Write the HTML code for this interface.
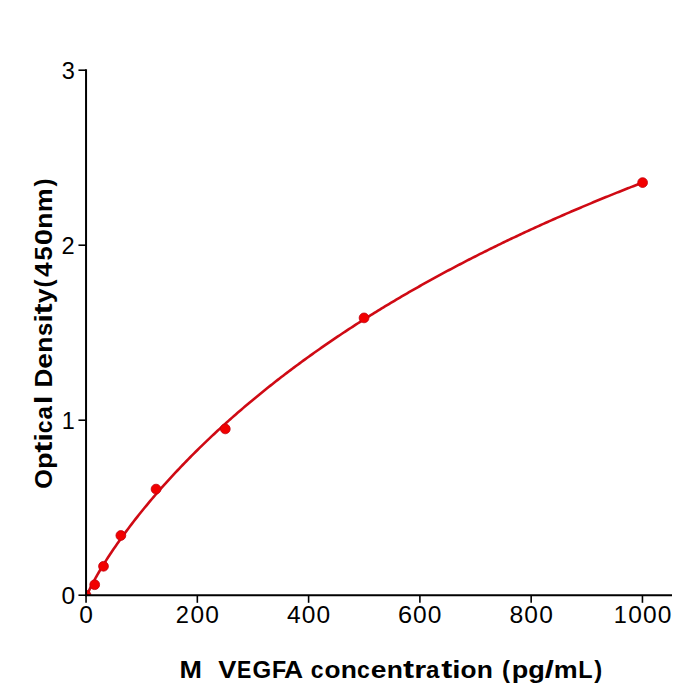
<!DOCTYPE html>
<html><head><meta charset="utf-8"><style>
html,body{margin:0;padding:0;background:#fff;width:700px;height:700px;overflow:hidden}
svg{display:block}
text{font-family:"Liberation Sans",sans-serif;}
</style></head><body>
<svg width="700" height="700" viewBox="0 0 700 700">
<defs><clipPath id="ax"><rect x="86.05" y="70.20000000000005" width="585.95" height="525.0"/></clipPath></defs>
<rect width="700" height="700" fill="#fff"/>
<g clip-path="url(#ax)">
<polyline points="86.05,598.03 86.24,597.35 86.43,596.79 86.62,596.27 86.80,595.77 86.99,595.29 87.18,594.83 87.37,594.37 87.56,593.92 87.75,593.48 87.94,593.05 88.12,592.62 88.31,592.19 88.50,591.78 88.69,591.36 88.88,590.96 89.07,590.55 89.26,590.15 89.44,589.75 89.63,589.36 89.82,588.97 90.01,588.58 90.20,588.19 90.39,587.81 90.58,587.43 90.77,587.05 90.95,586.67 91.14,586.30 91.33,585.93 91.52,585.56 91.71,585.19 91.90,584.82 92.09,584.46 92.27,584.09 92.46,583.73 92.65,583.37 92.84,583.02 93.03,582.66 93.22,582.31 93.41,581.95 93.59,581.60 93.78,581.25 93.97,580.90 94.16,580.55 94.35,580.21 94.54,579.86 94.73,579.52 94.91,579.18 95.10,578.83 95.29,578.49 95.48,578.16 95.67,577.82 95.86,577.48 96.05,577.14 96.23,576.81 96.42,576.48 96.61,576.14 96.80,575.81 96.99,575.48 97.18,575.15 99.00,572.01 100.83,568.95 102.65,565.95 104.47,563.01 106.30,560.13 108.12,557.30 109.94,554.52 111.77,551.77 113.59,549.07 115.41,546.41 117.24,543.79 119.06,541.19 120.89,538.63 122.71,536.10 124.53,533.61 126.36,531.13 128.18,528.69 130.00,526.27 131.83,523.88 133.65,521.51 135.47,519.17 137.30,516.85 139.12,514.55 140.95,512.27 142.77,510.02 144.59,507.78 146.42,505.56 148.24,503.36 150.06,501.19 151.89,499.03 153.71,496.88 155.53,494.76 157.36,492.65 159.18,490.56 161.01,488.48 162.83,486.42 164.65,484.38 166.48,482.35 168.30,480.34 170.12,478.34 171.95,476.36 173.77,474.39 175.60,472.43 177.42,470.49 179.24,468.56 181.07,466.65 182.89,464.74 184.71,462.85 186.54,460.98 188.36,459.11 190.18,457.26 192.01,455.42 193.83,453.59 195.66,451.77 197.48,449.97 199.30,448.17 201.13,446.39 202.95,444.62 204.77,442.86 206.60,441.11 208.42,439.37 210.24,437.64 212.07,435.92 213.89,434.21 215.72,432.51 217.54,430.82 219.36,429.14 221.19,427.47 223.01,425.81 224.83,424.16 226.66,422.51 228.48,420.88 230.30,419.26 232.13,417.64 233.95,416.03 235.78,414.44 237.60,412.85 239.42,411.27 241.25,409.69 243.07,408.13 244.89,406.57 246.72,405.03 248.54,403.49 250.36,401.96 252.19,400.43 254.01,398.92 255.84,397.41 257.66,395.91 259.48,394.41 261.31,392.93 263.13,391.45 264.95,389.98 266.78,388.52 268.60,387.06 270.42,385.61 272.25,384.17 274.07,382.73 275.90,381.31 277.72,379.88 279.54,378.47 281.37,377.06 283.19,375.66 285.01,374.27 286.84,372.88 288.66,371.50 290.49,370.12 292.31,368.75 294.13,367.39 295.96,366.03 297.78,364.68 299.60,363.34 301.43,362.00 303.25,360.67 305.07,359.34 306.90,358.02 308.72,356.71 310.55,355.40 312.37,354.10 314.19,352.80 316.02,351.51 317.84,350.22 319.66,348.94 321.49,347.67 323.31,346.40 325.13,345.14 326.96,343.88 328.78,342.63 330.61,341.38 332.43,340.14 334.25,338.90 336.08,337.67 337.90,336.44 339.72,335.22 341.55,334.00 343.37,332.79 345.19,331.58 347.02,330.38 348.84,329.19 350.67,328.00 352.49,326.81 354.31,325.63 356.14,324.45 357.96,323.28 359.78,322.11 361.61,320.95 363.43,319.79 365.25,318.63 367.08,317.48 368.90,316.34 370.73,315.20 372.55,314.06 374.37,312.93 376.20,311.80 378.02,310.68 379.84,309.56 381.67,308.45 383.49,307.34 385.32,306.23 387.14,305.13 388.96,304.03 390.79,302.94 392.61,301.85 394.43,300.77 396.26,299.69 398.08,298.61 399.90,297.54 401.73,296.47 403.55,295.40 405.38,294.34 407.20,293.29 409.02,292.23 410.85,291.19 412.67,290.14 414.49,289.10 416.32,288.06 418.14,287.03 419.96,286.00 421.79,284.97 423.61,283.95 425.44,282.93 427.26,281.91 429.08,280.90 430.91,279.89 432.73,278.89 434.55,277.89 436.38,276.89 438.20,275.90 440.02,274.91 441.85,273.92 443.67,272.94 445.50,271.96 447.32,270.98 449.14,270.01 450.97,269.04 452.79,268.07 454.61,267.11 456.44,266.15 458.26,265.19 460.08,264.24 461.91,263.29 463.73,262.34 465.56,261.40 467.38,260.46 469.20,259.52 471.03,258.58 472.85,257.65 474.67,256.72 476.50,255.80 478.32,254.88 480.14,253.96 481.97,253.04 483.79,252.13 485.62,251.22 487.44,250.31 489.26,249.41 491.09,248.51 492.91,247.61 494.73,246.72 496.56,245.82 498.38,244.94 500.21,244.05 502.03,243.17 503.85,242.29 505.68,241.41 507.50,240.53 509.32,239.66 511.15,238.79 512.97,237.92 514.79,237.06 516.62,236.20 518.44,235.34 520.27,234.49 522.09,233.63 523.91,232.78 525.74,231.93 527.56,231.09 529.38,230.25 531.21,229.41 533.03,228.57 534.85,227.74 536.68,226.90 538.50,226.07 540.33,225.25 542.15,224.42 543.97,223.60 545.80,222.78 547.62,221.97 549.44,221.15 551.27,220.34 553.09,219.53 554.91,218.72 556.74,217.92 558.56,217.12 560.39,216.32 562.21,215.52 564.03,214.72 565.86,213.93 567.68,213.14 569.50,212.35 571.33,211.57 573.15,210.79 574.97,210.00 576.80,209.23 578.62,208.45 580.45,207.68 582.27,206.90 584.09,206.13 585.92,205.37 587.74,204.60 589.56,203.84 591.39,203.08 593.21,202.32 595.04,201.56 596.86,200.81 598.68,200.06 600.51,199.31 602.33,198.56 604.15,197.82 605.98,197.07 607.80,196.33 609.62,195.59 611.45,194.86 613.27,194.12 615.10,193.39 616.92,192.66 618.74,191.93 620.57,191.20 622.39,190.48 624.21,189.76 626.04,189.03 627.86,188.32 629.68,187.60 631.51,186.89 633.33,186.17 635.16,185.46 636.98,184.75 638.80,184.05 640.63,183.34 642.45,182.64" fill="none" stroke="#cf0a14" stroke-width="2.6" stroke-linejoin="round"/>
<g fill="#f20000" stroke="#c0000e" stroke-width="0.8">
<circle cx="86" cy="595.2" r="4.9"/>
<circle cx="94.7" cy="584.7" r="4.9"/>
<circle cx="103.5" cy="566.3" r="4.9"/>
<circle cx="120.85" cy="535.5" r="4.9"/>
<circle cx="156.05" cy="489.1" r="4.9"/>
<circle cx="225.3" cy="428.9" r="4.9"/>
<circle cx="364.05" cy="317.9" r="4.9"/>
<circle cx="642.6" cy="182.6" r="4.9"/>
</g>
</g>
<g stroke="#000" stroke-width="2.0" stroke-linecap="square" fill="none">
<line x1="86.05" y1="70.20000000000005" x2="86.05" y2="595.2"/>
<line x1="86.05" y1="595.2" x2="671" y2="595.2"/>
</g>
<g stroke="#000" stroke-width="1.6">
<line x1="86.05" y1="595.20" x2="86.05" y2="602.80"/>
<line x1="197.33" y1="595.20" x2="197.33" y2="602.80"/>
<line x1="308.61" y1="595.20" x2="308.61" y2="602.80"/>
<line x1="419.89" y1="595.20" x2="419.89" y2="602.80"/>
<line x1="531.17" y1="595.20" x2="531.17" y2="602.80"/>
<line x1="642.45" y1="595.20" x2="642.45" y2="602.80"/>
<line x1="86.05" y1="595.20" x2="78.45" y2="595.20"/>
<line x1="86.05" y1="420.20" x2="78.45" y2="420.20"/>
<line x1="86.05" y1="245.20" x2="78.45" y2="245.20"/>
<line x1="86.05" y1="70.20" x2="78.45" y2="70.20"/>
</g>
<g fill="#000">
<text transform="translate(86.044,623.200) scale(0.24509,0.24713) translate(-27.808,0)" font-size="100">0</text>
<text transform="translate(182.225,623.200) scale(0.23624,0.24713) translate(-27.808,0)" font-size="100">2</text>
<text transform="translate(197.324,623.200) scale(0.24509,0.24713) translate(-27.808,0)" font-size="100">0</text>
<text transform="translate(212.117,623.200) scale(0.24509,0.24713) translate(-27.808,0)" font-size="100">0</text>
<text transform="translate(293.732,623.200) scale(0.24512,0.24636) translate(-27.490,0)" font-size="100">4</text>
<text transform="translate(308.604,623.200) scale(0.24509,0.24713) translate(-27.808,0)" font-size="100">0</text>
<text transform="translate(323.397,623.200) scale(0.24509,0.24713) translate(-27.808,0)" font-size="100">0</text>
<text transform="translate(405.177,623.200) scale(0.25366,0.24713) translate(-28.149,0)" font-size="100">6</text>
<text transform="translate(419.884,623.200) scale(0.24509,0.24713) translate(-27.808,0)" font-size="100">0</text>
<text transform="translate(434.677,623.200) scale(0.24509,0.24713) translate(-27.808,0)" font-size="100">0</text>
<text transform="translate(516.372,623.200) scale(0.24774,0.24713) translate(-27.808,0)" font-size="100">8</text>
<text transform="translate(531.164,623.200) scale(0.24509,0.24713) translate(-27.808,0)" font-size="100">0</text>
<text transform="translate(545.957,623.200) scale(0.24509,0.24713) translate(-27.808,0)" font-size="100">0</text>
<text transform="translate(620.466,623.200) scale(0.23408,0.24636) translate(-29.175,0)" font-size="100">1</text>
<text transform="translate(635.048,623.200) scale(0.24509,0.24713) translate(-27.808,0)" font-size="100">0</text>
<text transform="translate(649.841,623.200) scale(0.24509,0.24713) translate(-27.808,0)" font-size="100">0</text>
<text transform="translate(664.633,623.200) scale(0.24509,0.24713) translate(-27.808,0)" font-size="100">0</text>
<text transform="translate(68.298,603.500) scale(0.24509,0.24713) translate(-27.808,0)" font-size="100">0</text>
<text transform="translate(68.508,428.500) scale(0.23408,0.24636) translate(-29.175,0)" font-size="100">1</text>
<text transform="translate(67.992,253.500) scale(0.23624,0.24713) translate(-27.808,0)" font-size="100">2</text>
<text transform="translate(68.258,78.500) scale(0.23537,0.24713) translate(-27.515,0)" font-size="100">3</text>
<text transform="translate(190.628,677.500) scale(0.26968,0.24636) translate(-41.650,0)" font-size="100" font-weight="bold">M</text>
<text transform="translate(227.388,677.500) scale(0.27195,0.24636) translate(-33.350,0)" font-size="100" font-weight="bold">V</text>
<text transform="translate(244.541,677.500) scale(0.21469,0.24636) translate(-34.741,0)" font-size="100" font-weight="bold">E</text>
<text transform="translate(261.531,677.500) scale(0.24024,0.24713) translate(-37.842,0)" font-size="100" font-weight="bold">G</text>
<text transform="translate(279.382,677.500) scale(0.23250,0.24636) translate(-32.056,0)" font-size="100" font-weight="bold">F</text>
<text transform="translate(293.605,677.500) scale(0.26482,0.24636) translate(-36.035,0)" font-size="100" font-weight="bold">A</text>
<text transform="translate(317.309,677.500) scale(0.23017,0.24199) translate(-28.296,0)" font-size="100" font-weight="bold">c</text>
<text transform="translate(332.464,677.500) scale(0.26234,0.24199) translate(-30.542,0)" font-size="100" font-weight="bold">o</text>
<text transform="translate(348.795,677.500) scale(0.26471,0.24177) translate(-30.737,0)" font-size="100" font-weight="bold">n</text>
<text transform="translate(363.616,677.500) scale(0.23017,0.24199) translate(-28.296,0)" font-size="100" font-weight="bold">c</text>
<text transform="translate(378.607,677.500) scale(0.28257,0.24199) translate(-28.052,0)" font-size="100" font-weight="bold">e</text>
<text transform="translate(394.898,677.500) scale(0.26471,0.24177) translate(-30.737,0)" font-size="100" font-weight="bold">n</text>
<text transform="translate(408.549,677.500) scale(0.33293,0.25025) translate(-16.650,0)" font-size="100" font-weight="bold">t</text>
<text transform="translate(420.895,677.500) scale(0.30656,0.24177) translate(-21.997,0)" font-size="100" font-weight="bold">r</text>
<text transform="translate(433.116,677.500) scale(0.24123,0.24199) translate(-29.590,0)" font-size="100" font-weight="bold">a</text>
<text transform="translate(446.818,677.500) scale(0.33293,0.25025) translate(-16.650,0)" font-size="100" font-weight="bold">t</text>
<text transform="translate(456.474,677.500) scale(0.29621,0.24378) translate(-13.843,0)" font-size="100" font-weight="bold">i</text>
<text transform="translate(468.445,677.500) scale(0.26234,0.24199) translate(-30.542,0)" font-size="100" font-weight="bold">o</text>
<text transform="translate(484.776,677.500) scale(0.26471,0.24177) translate(-30.737,0)" font-size="100" font-weight="bold">n</text>
<text transform="translate(506.459,677.500) scale(0.23974,0.24347) translate(-19.092,0)" font-size="100" font-weight="bold">(</text>
<text transform="translate(520.479,677.500) scale(0.27080,0.24134) translate(-31.787,0)" font-size="100" font-weight="bold">p</text>
<text transform="translate(536.214,677.500) scale(0.27133,0.24135) translate(-29.248,0)" font-size="100" font-weight="bold">g</text>
<text transform="translate(549.235,677.500) scale(0.32875,0.23391) translate(-13.892,0)" font-size="100" font-weight="bold">/</text>
<text transform="translate(565.640,677.500) scale(0.26874,0.24177) translate(-44.653,0)" font-size="100" font-weight="bold">m</text>
<text transform="translate(585.864,677.500) scale(0.23471,0.24636) translate(-32.349,0)" font-size="100" font-weight="bold">L</text>
<text transform="translate(597.768,677.500) scale(0.23974,0.24347) translate(-14.209,0)" font-size="100" font-weight="bold">)</text>
<g transform="translate(51.900,487.800) rotate(-90)"><text transform="translate(8.719,0.000) scale(0.25096,0.24713) translate(-38.843,0)" font-size="100" font-weight="bold">O</text><text transform="translate(27.382,0.000) scale(0.27080,0.24134) translate(-31.787,0)" font-size="100" font-weight="bold">p</text><text transform="translate(40.693,0.000) scale(0.33293,0.25025) translate(-16.650,0)" font-size="100" font-weight="bold">t</text><text transform="translate(50.349,0.000) scale(0.29621,0.24378) translate(-13.843,0)" font-size="100" font-weight="bold">i</text><text transform="translate(60.946,0.000) scale(0.23017,0.24199) translate(-28.296,0)" font-size="100" font-weight="bold">c</text><text transform="translate(75.545,0.000) scale(0.24123,0.24199) translate(-29.590,0)" font-size="100" font-weight="bold">a</text><text transform="translate(87.789,0.000) scale(0.29621,0.24378) translate(-13.843,0)" font-size="100" font-weight="bold">l</text><text transform="translate(109.978,0.000) scale(0.26008,0.24636) translate(-37.354,0)" font-size="100" font-weight="bold">D</text><text transform="translate(126.990,0.000) scale(0.28257,0.24199) translate(-28.052,0)" font-size="100" font-weight="bold">e</text><text transform="translate(143.280,0.000) scale(0.26471,0.24177) translate(-30.737,0)" font-size="100" font-weight="bold">n</text><text transform="translate(158.459,0.000) scale(0.24031,0.24177) translate(-27.515,0)" font-size="100" font-weight="bold">s</text><text transform="translate(169.312,0.000) scale(0.29621,0.24378) translate(-13.843,0)" font-size="100" font-weight="bold">i</text><text transform="translate(178.740,0.000) scale(0.33293,0.25025) translate(-16.650,0)" font-size="100" font-weight="bold">t</text><text transform="translate(191.920,0.000) scale(0.26616,0.24067) translate(-27.930,0)" font-size="100" font-weight="bold">y</text><text transform="translate(204.947,0.000) scale(0.23974,0.24347) translate(-19.092,0)" font-size="100" font-weight="bold">(</text><text transform="translate(218.270,0.000) scale(0.26260,0.24636) translate(-28.296,0)" font-size="100" font-weight="bold">4</text><text transform="translate(234.543,0.000) scale(0.25646,0.24636) translate(-27.954,0)" font-size="100" font-weight="bold">5</text><text transform="translate(250.636,0.000) scale(0.29337,0.24713) translate(-27.734,0)" font-size="100" font-weight="bold">0</text><text transform="translate(267.068,0.000) scale(0.26471,0.24177) translate(-30.737,0)" font-size="100" font-weight="bold">n</text><text transform="translate(287.435,0.000) scale(0.26874,0.24177) translate(-44.653,0)" font-size="100" font-weight="bold">m</text><text transform="translate(304.748,0.000) scale(0.23974,0.24347) translate(-14.209,0)" font-size="100" font-weight="bold">)</text></g>
</g>
</svg>
</body></html>
